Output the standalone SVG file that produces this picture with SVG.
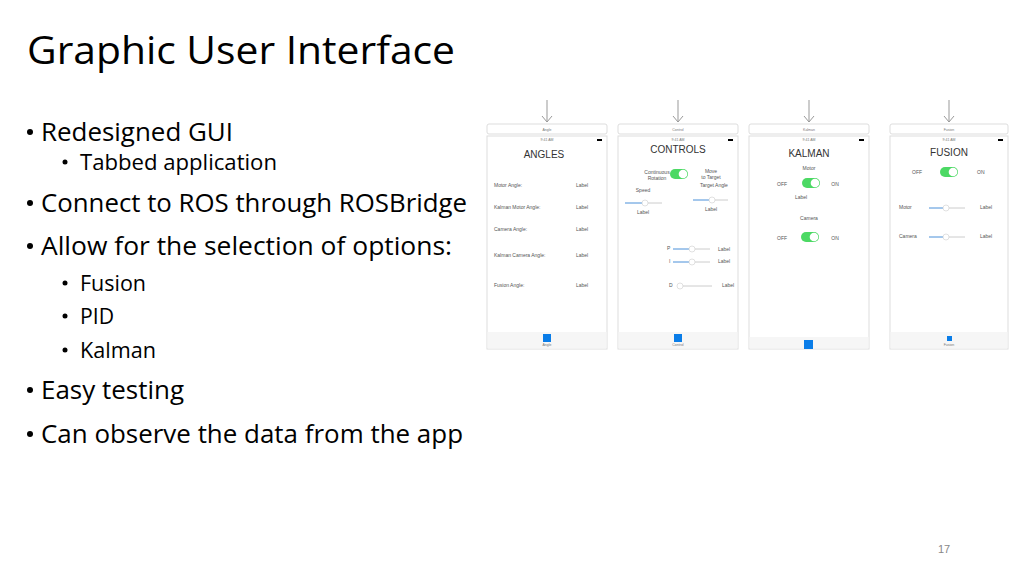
<svg xmlns="http://www.w3.org/2000/svg" width="1024" height="576" viewBox="0 0 1024 576">
<style>
.t{font-family:"Open Sans","Liberation Sans",sans-serif;fill:#000}
.b1{font-size:25px}.b2{font-size:21px}
.s{font-family:"Liberation Sans",sans-serif;fill:#555;font-size:5px}
.h{font-family:"Liberation Sans",sans-serif;fill:#333;font-size:10px}
.tiny{font-family:"Liberation Sans",sans-serif;fill:#777;font-size:3.5px}
.frame{fill:#fff;stroke:#ddd;stroke-width:1}
.tab{fill:#f6f6f6}
.arr{fill:none;stroke:#999;stroke-width:1}
.sl{stroke:#4a90d9;stroke-width:1}
.sr{stroke:#ccc;stroke-width:1}
.th{fill:#fff;stroke:#ccc;stroke-width:.6}
.tg{fill:#4cd964}
</style>
<rect width="1024" height="576" fill="#fff"/>
<text class="t" x="27" y="64" font-size="38" textLength="428" lengthAdjust="spacingAndGlyphs">Graphic User Interface</text>
<g fill="#000"><circle cx="30" cy="132" r="3"/><circle cx="30" cy="203" r="3"/><circle cx="30" cy="246" r="3"/><circle cx="30" cy="390" r="3"/><circle cx="30" cy="434" r="3"/>
<circle cx="65" cy="162" r="2.5"/><circle cx="65" cy="283" r="2.5"/><circle cx="65" cy="316" r="2.5"/><circle cx="65" cy="350" r="2.5"/></g>
<text class="t b1" x="41" y="141" textLength="192" lengthAdjust="spacingAndGlyphs">Redesigned GUI</text>
<text class="t b2" x="80" y="170" textLength="197" lengthAdjust="spacingAndGlyphs">Tabbed application</text>
<text class="t b1" x="41" y="212" textLength="426" lengthAdjust="spacingAndGlyphs">Connect to ROS through ROSBridge</text>
<text class="t b1" x="41" y="255" textLength="411" lengthAdjust="spacingAndGlyphs">Allow for the selection of options:</text>
<text class="t b2" x="80" y="291" textLength="66" lengthAdjust="spacingAndGlyphs">Fusion</text>
<text class="t b2" x="80" y="324" textLength="34" lengthAdjust="spacingAndGlyphs">PID</text>
<text class="t b2" x="80" y="358" textLength="76" lengthAdjust="spacingAndGlyphs">Kalman</text>
<text class="t b1" x="41" y="399" textLength="143" lengthAdjust="spacingAndGlyphs">Easy testing</text>
<text class="t b1" x="41" y="443" textLength="422" lengthAdjust="spacingAndGlyphs">Can observe the data from the app</text>
<text x="938" y="553" font-family="Liberation Sans,sans-serif" font-size="11" fill="#888">17</text>

<g id="phone-angles">
<path class="arr" d="M547 100v22M542 116l5 6 5-6"/>
<rect class="frame" x="487" y="124" width="120" height="10" rx="2"/><text class="tiny" x="547" y="130.5" text-anchor="middle">Angle</text>
<rect class="frame" x="487" y="136" width="120" height="213"/><rect class="tab" x="487.5" y="332" width="119" height="16.5"/>
<text class="tiny" x="547" y="141" text-anchor="middle">9:41 AM</text><rect x="597" y="139" width="5" height="2" fill="#000"/>
<text class="h" x="544" y="158" text-anchor="middle">ANGLES</text>
<g class="s"><text x="494" y="187">Motor Angle:</text><text x="494" y="209">Kalman Motor Angle:</text><text x="494" y="231">Camera Angle:</text><text x="494" y="257">Kalman Camera Angle:</text><text x="494" y="287">Fusion Angle:</text>
<text x="576" y="187">Label</text><text x="576" y="209">Label</text><text x="576" y="231">Label</text><text x="576" y="257">Label</text><text x="576" y="287">Label</text></g>
<rect x="543" y="334" width="8" height="8" fill="#0a7de8"/><text class="tiny" x="547" y="346" text-anchor="middle">Angle</text>
</g>

<g id="phone-controls">
<path class="arr" d="M678 100v22M673 116l5 6 5-6"/>
<rect class="frame" x="618" y="124" width="120" height="10" rx="2"/><text class="tiny" x="678" y="130.5" text-anchor="middle">Control</text>
<rect class="frame" x="618" y="136" width="120" height="213"/><rect class="tab" x="618.5" y="332" width="119" height="16.5"/>
<text class="tiny" x="678" y="141" text-anchor="middle">9:41 AM</text><rect x="728" y="139" width="5" height="2" fill="#000"/>
<text class="h" x="678" y="153" text-anchor="middle">CONTROLS</text>
<g class="s" text-anchor="middle"><text x="657" y="174">Continuous</text><text x="657" y="180">Rotation</text><text x="711" y="173">Move</text><text x="711" y="179">to Target</text><text x="714" y="187">Target Angle</text><text x="643" y="192">Speed</text><text x="643" y="214">Label</text><text x="711" y="211">Label</text></g>
<rect class="tg" x="670" y="169" width="18" height="10" rx="5"/><circle cx="683" cy="174" r="4.3" fill="#fff"/>
<line class="sl" x1="625" y1="203" x2="645" y2="203"/><line class="sr" x1="645" y1="203" x2="662" y2="203"/><circle class="th" cx="645" cy="203" r="3"/>
<line class="sl" x1="693" y1="200" x2="712" y2="200"/><line class="sr" x1="712" y1="200" x2="728" y2="200"/><circle class="th" cx="712" cy="200" r="3"/>
<g class="s"><text x="667" y="250">P</text><text x="669" y="263">I</text><text x="669" y="287">D</text><text x="718" y="251">Label</text><text x="718" y="263">Label</text><text x="722" y="287">Label</text></g>
<line class="sl" x1="673" y1="249" x2="692" y2="249"/><line class="sr" x1="692" y1="249" x2="710" y2="249"/><circle class="th" cx="692" cy="249" r="3"/>
<line class="sl" x1="673" y1="262" x2="692" y2="262"/><line class="sr" x1="692" y1="262" x2="710" y2="262"/><circle class="th" cx="692" cy="262" r="3"/>
<line class="sr" x1="677" y1="286" x2="712" y2="286"/><circle class="th" cx="680" cy="286" r="3"/>
<rect x="674" y="334" width="8" height="8" fill="#0a7de8"/><text class="tiny" x="678" y="346" text-anchor="middle">Control</text>
</g>

<g id="phone-kalman">
<path class="arr" d="M809 100v22M804 116l5 6 5-6"/>
<rect class="frame" x="749" y="124" width="120" height="10" rx="2"/><text class="tiny" x="809" y="130.5" text-anchor="middle">Kalman</text>
<rect class="frame" x="749" y="136" width="120" height="213"/><rect class="tab" x="749.5" y="337" width="119" height="11.5"/>
<text class="tiny" x="809" y="141" text-anchor="middle">9:41 AM</text><rect x="859" y="139" width="5" height="2" fill="#000"/>
<text class="h" x="809" y="157" text-anchor="middle">KALMAN</text>
<g class="s" text-anchor="middle"><text x="809" y="170">Motor</text><text x="782" y="186">OFF</text><text x="835" y="186">ON</text><text x="801" y="199">Label</text><text x="809" y="220">Camera</text><text x="782" y="240">OFF</text><text x="835" y="240">ON</text></g>
<rect class="tg" x="802" y="178" width="18" height="10" rx="5"/><circle cx="815" cy="183" r="4.3" fill="#fff"/>
<rect class="tg" x="801" y="232" width="18" height="10" rx="5"/><circle cx="814" cy="237" r="4.3" fill="#fff"/>
<rect x="804" y="340" width="9" height="9" fill="#0a7de8"/>
</g>

<g id="phone-fusion">
<path class="arr" d="M949 100v22M944 116l5 6 5-6"/>
<rect class="frame" x="890" y="124" width="118" height="10" rx="2"/><text class="tiny" x="949" y="130.5" text-anchor="middle">Fusion</text>
<rect class="frame" x="890" y="136" width="118" height="213"/><rect class="tab" x="890.5" y="332" width="117" height="16.5"/>
<text class="tiny" x="949" y="141" text-anchor="middle">9:41 AM</text><rect x="998" y="139" width="5" height="2" fill="#000"/>
<text class="h" x="949" y="156" text-anchor="middle">FUSION</text>
<g class="s"><text x="912" y="174">OFF</text><text x="977" y="174">ON</text><text x="899" y="209">Motor</text><text x="899" y="238">Camera</text><text x="980" y="209">Label</text><text x="980" y="238">Label</text></g>
<rect class="tg" x="940" y="167" width="18" height="10" rx="5"/><circle cx="953" cy="172" r="4.3" fill="#fff"/>
<line class="sl" x1="929" y1="208" x2="946" y2="208"/><line class="sr" x1="946" y1="208" x2="965" y2="208"/><circle class="th" cx="946" cy="208" r="3"/>
<line class="sl" x1="929" y1="237" x2="946" y2="237"/><line class="sr" x1="946" y1="237" x2="965" y2="237"/><circle class="th" cx="946" cy="237" r="3"/>
<rect x="947" y="336" width="5" height="5" fill="#0a7de8"/><text class="tiny" x="949" y="346" text-anchor="middle">Fusion</text>
</g>
</svg>
